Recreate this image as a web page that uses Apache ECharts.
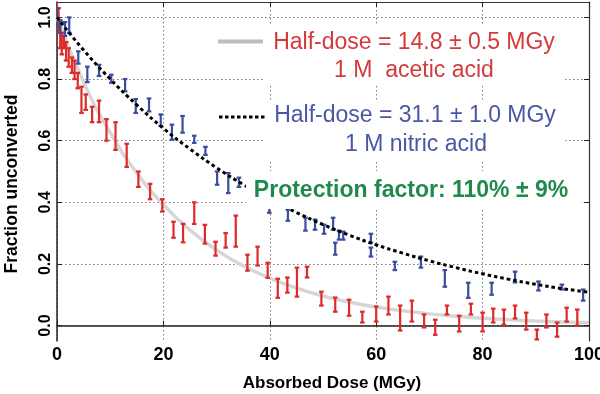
<!DOCTYPE html>
<html><head><meta charset="utf-8">
<script src="https://cdn.jsdelivr.net/npm/echarts@6/dist/echarts.min.js"></script>
<style>html,body{margin:0;padding:0;background:#fff}#c{width:600px;height:394px}</style>
</head><body><div id="c"></div>
<script>
// ---- data ----
const redX  = [0,0.3,0.6,0.9,1.3,1.7,2.2,2.8,3.3,3.9,4.6,5.4,6.6,7.9,9.3,11.0,13.1,15.3,17.5,19.8,21.9,23.7,25.8,27.8,29.8,31.7,33.6,35.8,37.7,39.6,41.5,43.3,45.1,47.0,49.7,52.3,54.9,57.4,60.0,62.3,64.5,66.7,69.0,71.1,73.3,75.6,77.8,80.0,82.0,84.0,86.1,88.2,90.2,92.0,94.0,95.8,97.8];
const redLo = [0.99,0.95,0.90,0.88,0.90,0.86,0.84,0.82,0.80,0.77,0.69,0.70,0.66,0.66,0.60,0.57,0.515,0.45,0.41,0.37,0.285,0.27,0.33,0.266,0.227,0.253,0.256,0.178,0.195,0.155,0.09,0.107,0.094,0.156,0.065,0.045,0.032,0.01,0.013,0.036,-0.016,0.013,-0.006,-0.03,0.036,-0.019,0.036,-0.019,0.01,0.003,0.023,-0.013,-0.045,-0.006,-0.036,0.013,0.0];
const redHi = [1.06,1.03,0.99,0.95,0.94,0.92,0.90,0.87,0.86,0.82,0.775,0.75,0.71,0.73,0.67,0.66,0.59,0.50,0.46,0.41,0.337,0.33,0.40,0.327,0.272,0.30,0.357,0.23,0.256,0.204,0.152,0.156,0.188,0.191,0.11,0.091,0.084,0.045,0.062,0.094,0.065,0.081,0.036,0.019,0.065,0.032,0.071,0.042,0.055,0.052,0.065,0.042,-0.013,0.036,0.01,0.058,0.052];

const blueX  = [0,0.6,1.5,2.3,4.0,5.7,7.9,10.2,12.8,14.8,17.3,19.5,21.6,23.6,25.8,27.9,30.1,32.2,34.2,39.9,43.4,46.7,48.5,50.2,51.9,52.3,53.0,53.8,59.0,59.0,63.5,68.4,72.9,77.3,81.7,86.1,90.5,94.9,98.9];
const blueLo = [0.97,0.95,0.94,0.95,0.85,0.79,0.81,0.788,0.76,0.69,0.695,0.648,0.603,0.626,0.593,0.554,0.457,0.43,0.45,0.366,0.34,0.308,0.311,0.298,0.311,0.23,0.279,0.279,0.269,0.224,0.18,0.188,0.126,0.09,0.10,0.14,0.114,0.117,0.081];
const blueHi = [1.03,0.99,0.985,1.0,0.89,0.84,0.846,0.814,0.80,0.735,0.737,0.685,0.652,0.68,0.616,0.58,0.50,0.495,0.48,0.40,0.376,0.35,0.344,0.327,0.35,0.269,0.308,0.305,0.298,0.253,0.207,0.224,0.18,0.139,0.139,0.175,0.143,0.133,0.117];

const fitX       = [0,5,10,15,20,25,30,35,40,45,50,55,60,65,70,75,80,85,90,95,100];
const aceticFit  = [1.0,0.79,0.626,0.495,0.392,0.31,0.245,0.194,0.154,0.122,0.096,0.076,0.06,0.048,0.038,0.03,0.024,0.019,0.015,0.012,0.009];
const nitricFit  = [1.0,0.894,0.80,0.716,0.64,0.573,0.512,0.458,0.41,0.367,0.328,0.293,0.262,0.235,0.21,0.188,0.168,0.15,0.134,0.12,0.108];

const yTicks = [0,0.2,0.4,0.6,0.8,1.0];
const xTicks = [0,20,40,60,80,100];

const xName = 'Absorbed Dose (MGy)';
const yName = 'Fraction unconverted';
const legendTexts = ['Half-dose = 14.8 \u00b1 0.5 MGy','1 M  acetic acid','Half-dose = 31.1 \u00b1 1.0 MGy','1 M nitric acid','Protection factor: 110% \u00b1 9%'];
// --------------------------------------

const FONT = "'Liberation Sans', Arial, Helvetica, sans-serif";
const RED = '#dd2a2a', BLUE = '#3b4e9e';

function zip3(a,b,c){return a.map((v,i)=>[v,b[i],c[i]]);}
function zip2(a,b){return a.map((v,i)=>[v,b[i]]);}

function errRender(color){
  return function(params, api){
    const x = api.value(0), lo = api.value(1), hi = api.value(2);
    const p1 = api.coord([x, lo]), p2 = api.coord([x, hi]);
    const w = 2.3;
    const st = {stroke: color, lineWidth: 2.2};
    return {type:'group', children:[
      {type:'line', shape:{x1:p1[0], y1:p1[1], x2:p2[0], y2:p2[1]}, style:st},
      {type:'line', shape:{x1:p1[0]-w, y1:p1[1], x2:p1[0]+w, y2:p1[1]}, style:st},
      {type:'line', shape:{x1:p2[0]-w, y1:p2[1], x2:p2[0]+w, y2:p2[1]}, style:st}
    ]};
  };
}

const gridLine = {show:true, lineStyle:{color:'#7a7a7a', type:[1.5,2.5], width:1}};
const chart = echarts.init(document.getElementById('c'));
chart.setOption({
  animation:false,
  backgroundColor:'#fff',
  grid:{left:57, right:11, top:2, bottom:53, containLabel:false, outerBoundsMode:'none'},
  xAxis:[{
    type:'value', min:0, max:100, interval:20,
    axisLine:{lineStyle:{color:'#222', width:1.5}},
    axisTick:{inside:true, length:5, lineStyle:{color:'#222'}},
    axisLabel:{color:'#000', fontWeight:'bold', fontSize:18, fontFamily:FONT, margin:5,
      customValues: xTicks},
    splitLine:gridLine
  },{
    type:'value', min:0, max:100, interval:20, position:'top',
    axisLine:{show:true, onZero:false, lineStyle:{color:'#333', width:1.2}},
    axisTick:{inside:true, length:5, lineStyle:{color:'#222'}},
    axisLabel:{show:false}, splitLine:{show:false}
  }],
  yAxis:[{
    type:'value', min:-0.05, max:1.05,
    axisLine:{show:true, onZero:false, lineStyle:{color:'#222', width:1.5}},
    axisTick:{inside:true, length:5, customValues:yTicks, lineStyle:{color:'#222'}},
    axisLabel:{customValues:yTicks, rotate:90, color:'#000', fontWeight:'bold', fontSize:16, fontFamily:FONT, margin:3,
      formatter:v=>Number(v).toFixed(1)},
    splitLine:gridLine
  },{
    type:'value', min:-0.05, max:1.05, position:'right',
    axisLine:{show:true, onZero:false, lineStyle:{color:'#333', width:1.2}},
    axisTick:{inside:true, length:5, customValues:yTicks, lineStyle:{color:'#222'}},
    axisLabel:{show:false}, splitLine:{show:false}
  }],
  series:[
    {type:'line', data:zip2(fitX, aceticFit), smooth:true, symbol:'none',
      lineStyle:{color:'#d6d6d6', width:3.5}, z:2},
    {type:'custom', data:zip3(redX, redLo, redHi), renderItem:errRender(RED), clip:true, z:3},
    {type:'custom', data:zip3(blueX, blueLo, blueHi), renderItem:errRender(BLUE), clip:true, z:3},
    {type:'line', data:zip2(fitX, nitricFit), smooth:true, symbol:'none',
      lineStyle:{color:'#000', width:3, type:[3.5,3]}, z:4}
  ],
  graphic:[
    {type:'rect', shape:{x:264, y:24, width:300, height:61}, style:{fill:'#fff'}, z:50},
    {type:'rect', shape:{x:264, y:101, width:300, height:59}, style:{fill:'#fff'}, z:50},
    {type:'rect', shape:{x:246, y:171, width:336, height:38}, style:{fill:'#fff'}, z:50},
    {type:'line', shape:{x1:218, y1:41.5, x2:263, y2:41.5}, style:{stroke:'#bdbdbd', lineWidth:4}, z:60},
    {type:'line', shape:{x1:219, y1:117, x2:265, y2:117}, style:{stroke:'#000', lineWidth:3, lineDash:[3.5,2.5]}, z:60},
    {type:'text', x:414, y:43, style:{text:legendTexts[0], fill:'#d43a3a', font:'23px '+FONT, align:'center', verticalAlign:'middle'}, z:60},
    {type:'text', x:414, y:71, style:{text:legendTexts[1], fill:'#d43a3a', font:'23px '+FONT, align:'center', verticalAlign:'middle'}, z:60},
    {type:'text', x:415, y:116, style:{text:legendTexts[2], fill:'#4a57a6', font:'23px '+FONT, align:'center', verticalAlign:'middle'}, z:60},
    {type:'text', x:416, y:145, style:{text:legendTexts[3], fill:'#4a57a6', font:'23px '+FONT, align:'center', verticalAlign:'middle'}, z:60},
    {type:'text', x:411, y:191, style:{text:legendTexts[4], fill:'#1f8a4c', font:'bold 23px '+FONT, align:'center', verticalAlign:'middle'}, z:60},
    {type:'text', x:332, y:383, style:{text:xName, fill:'#000', font:'bold 17px '+FONT, align:'center', verticalAlign:'middle'}, z:60},
    {type:'text', x:12, y:184, rotation:Math.PI/2, style:{text:yName, fill:'#000', font:'bold 17.5px '+FONT, align:'center', verticalAlign:'middle'}, z:60}
  ]
});
</script></body></html>
